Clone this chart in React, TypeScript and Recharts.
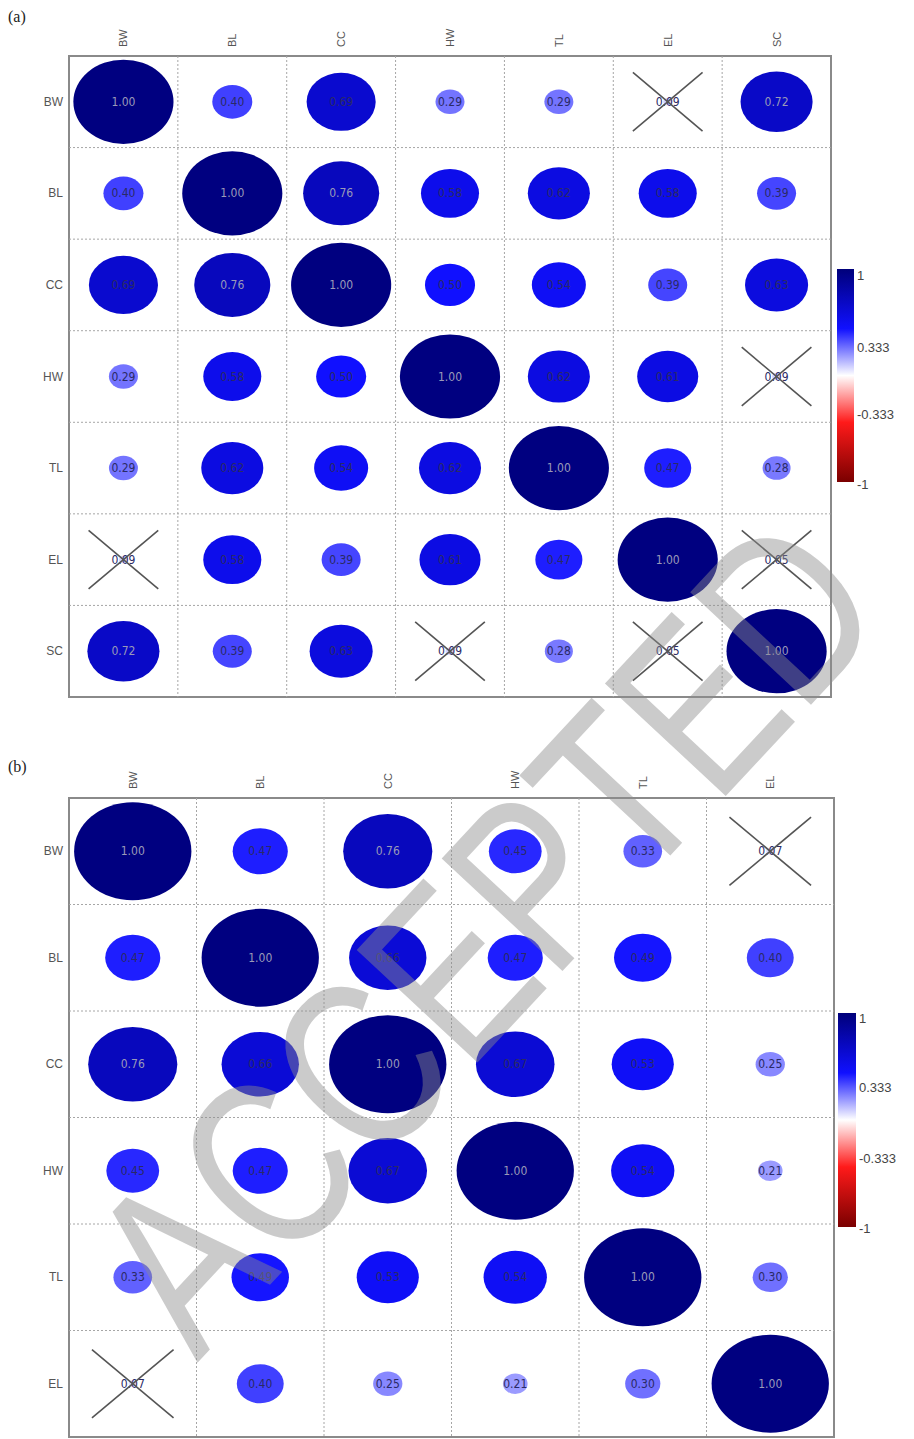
import React from "react";
import {
  ReferenceArea,
  ReferenceLine,
  Scatter,
  ScatterChart,
  XAxis,
  YAxis,
} from "recharts";

// panel (a)
const traitsA = ["BW", "BL", "CC", "HW", "TL", "EL", "SC"];
const corrA = [
  [1.0, 0.4, 0.69, 0.29, 0.29, 0.09, 0.72],
  [0.4, 1.0, 0.76, 0.58, 0.62, 0.58, 0.39],
  [0.69, 0.76, 1.0, 0.5, 0.54, 0.39, 0.63],
  [0.29, 0.58, 0.5, 1.0, 0.62, 0.61, 0.09],
  [0.29, 0.62, 0.54, 0.62, 1.0, 0.47, 0.28],
  [0.09, 0.58, 0.39, 0.61, 0.47, 1.0, 0.05],
  [0.72, 0.39, 0.63, 0.09, 0.28, 0.05, 1.0],
];

// panel (b)
const traitsB = ["BW", "BL", "CC", "HW", "TL", "EL"];
const corrB = [
  [1.0, 0.47, 0.76, 0.45, 0.33, 0.07],
  [0.47, 1.0, 0.66, 0.47, 0.49, 0.4],
  [0.76, 0.66, 1.0, 0.67, 0.53, 0.25],
  [0.45, 0.47, 0.67, 1.0, 0.54, 0.21],
  [0.33, 0.49, 0.53, 0.54, 1.0, 0.3],
  [0.07, 0.4, 0.25, 0.21, 0.3, 1.0],
];

const colorbarLabels = ["1", "0.333", "-0.333", "-1"];
const nonSigCutoff = 0.2; // cells below this get crossed out

const labelFont = "'Liberation Sans', Arial, sans-serif";
const valueFont = "'DejaVu Sans Condensed', 'Liberation Sans Narrow', sans-serif";

function mix(a: number[], b: number[], t: number) {
  const c = a.map((v, i) => Math.round(v + (b[i] - v) * t));
  return `rgb(${c[0]},${c[1]},${c[2]})`;
}

// white -> blue -> navy for positive r
function corrColor(r: number) {
  const v = Math.min(1, Math.abs(r));
  if (r >= 0) {
    if (v < 0.5) return mix([255, 255, 255], [16, 16, 255], v / 0.5);
    return mix([16, 16, 255], [0, 0, 128], (v - 0.5) / 0.5);
  }
  if (v < 0.5) return mix([255, 255, 255], [255, 26, 26], v / 0.5);
  return mix([255, 26, 26], [128, 0, 0], (v - 0.5) / 0.5);
}

function CorrPanel({
  names,
  matrix,
  width,
  height,
  plotLeft,
  plotTop,
  plotW,
  plotH,
}: {
  names: string[];
  matrix: number[][];
  width: number;
  height: number;
  plotLeft: number;
  plotTop: number;
  plotW: number;
  plotH: number;
}) {
  const n = names.length;
  const cw = plotW / n;
  const ch = plotH / n;
  const axisH = 40;
  const axisW = 50;
  const centers = names.map((_, i) => i + 0.5);
  const bounds = names.slice(1).map((_, i) => i + 1);
  const cells = matrix.flatMap((row, i) =>
    row.map((r, j) => ({ x: j + 0.5, y: i + 0.5, r }))
  );

  const ColTick = (p: any) => (
    <text
      x={0}
      y={0}
      transform={`translate(${p.x},${plotTop - 9}) rotate(-90)`}
      textAnchor="start"
      dominantBaseline="central"
      fontSize={11}
      fontFamily={labelFont}
      fill="#555"
    >
      {names[Math.floor(p.payload.value)]}
    </text>
  );

  const RowTick = (p: any) => (
    <text
      x={plotLeft - 6}
      y={p.y}
      textAnchor="end"
      dominantBaseline="central"
      fontSize={12}
      fontFamily={labelFont}
      fill="#555"
    >
      {names[Math.floor(p.payload.value)]}
    </text>
  );

  const Cell = (p: any) => {
    const { cx, cy, payload } = p;
    if (cx == null || cy == null) return <g />;
    const a = Math.abs(payload.r);
    const crossed = a < nonSigCutoff;
    const dx = cw * 0.32;
    const dy = ch * 0.32;
    return (
      <g>
        <ellipse
          cx={cx}
          cy={cy}
          rx={0.46 * cw * a}
          ry={0.46 * ch * a}
          fill={corrColor(payload.r)}
        />
        <text
          x={cx}
          y={cy}
          textAnchor="middle"
          dominantBaseline="central"
          fontSize={12}
          fontFamily={valueFont}
          fill={a >= 0.7 ? "#9a9ab8" : "#2a2a66"}
        >
          {payload.r.toFixed(2)}
        </text>
        {crossed && (
          <g stroke="#555" strokeWidth={1.6}>
            <line x1={cx - dx} y1={cy - dy} x2={cx + dx} y2={cy + dy} />
            <line x1={cx - dx} y1={cy + dy} x2={cx + dx} y2={cy - dy} />
          </g>
        )}
      </g>
    );
  };

  return (
    <ScatterChart
      width={width}
      height={height}
      margin={{
        top: plotTop - axisH,
        left: plotLeft - axisW,
        right: width - plotLeft - plotW,
        bottom: height - plotTop - plotH,
      }}
    >
      <XAxis
        type="number"
        dataKey="x"
        domain={[0, n]}
        ticks={centers}
        interval={0}
        orientation="top"
        height={axisH}
        axisLine={false}
        tickLine={false}
        tick={<ColTick />}
      />
      <YAxis
        type="number"
        dataKey="y"
        domain={[0, n]}
        ticks={centers}
        interval={0}
        reversed
        width={axisW}
        axisLine={false}
        tickLine={false}
        tick={<RowTick />}
      />
      {bounds.map((b) => (
        <ReferenceLine
          key={`vx${b}`}
          x={b}
          stroke="#a6a6a6"
          strokeDasharray="2 2"
        />
      ))}
      {bounds.map((b) => (
        <ReferenceLine
          key={`hy${b}`}
          y={b}
          stroke="#a6a6a6"
          strokeDasharray="2 2"
        />
      ))}
      <Scatter data={cells} shape={Cell} isAnimationActive={false} />
      <ReferenceArea
        x1={0}
        x2={n}
        y1={0}
        y2={n}
        fill="none"
        fillOpacity={0}
        stroke="#8a8a8a"
        strokeWidth={2}
      />
    </ScatterChart>
  );
}

function ColorBar({
  id,
  x,
  y,
  w,
  h,
  labelYs,
}: {
  id: string;
  x: number;
  y: number;
  w: number;
  h: number;
  labelYs: number[];
}) {
  return (
    <g>
      <defs>
        <linearGradient id={id} x1="0" y1="0" x2="0" y2="1">
          <stop offset="0%" stopColor="#00007a" />
          <stop offset="28%" stopColor="#1010ff" />
          <stop offset="50%" stopColor="#ffffff" />
          <stop offset="72%" stopColor="#ff1a1a" />
          <stop offset="100%" stopColor="#7a0000" />
        </linearGradient>
      </defs>
      <rect x={x} y={y} width={w} height={h} fill={`url(#${id})`} />
      {colorbarLabels.map((t, i) => (
        <text
          key={t}
          x={x + w + 3}
          y={labelYs[i]}
          dominantBaseline="central"
          fontSize={13}
          fontFamily={labelFont}
          fill="#444"
        >
          {t}
        </text>
      ))}
    </g>
  );
}

export default function App() {
  return (
    <div
      style={{
        position: "absolute",
        left: 0,
        top: 0,
        width: 914,
        height: 1439,
        background: "#fff",
        overflow: "hidden",
      }}
    >
      <div style={{ position: "absolute", left: 0, top: 0 }}>
        <CorrPanel
          names={traitsA}
          matrix={corrA}
          width={914}
          height={705}
          plotLeft={69}
          plotTop={56}
          plotW={762}
          plotH={641}
        />
      </div>
      <div style={{ position: "absolute", left: 0, top: 750 }}>
        <CorrPanel
          names={traitsB}
          matrix={corrB}
          width={914}
          height={689}
          plotLeft={69}
          plotTop={48}
          plotW={765}
          plotH={639}
        />
      </div>
      <svg
        width={914}
        height={1439}
        style={{ position: "absolute", left: 0, top: 0, pointerEvents: "none" }}
      >
        <text x={8} y={22} fontSize={16} fontFamily="'Liberation Serif', serif" fill="#222">
          (a)
        </text>
        <text x={8} y={772} fontSize={16} fontFamily="'Liberation Serif', serif" fill="#222">
          (b)
        </text>
        <ColorBar id="cbA" x={837} y={269} w={17} h={213} labelYs={[275, 347, 414, 484]} />
        <ColorBar id="cbB" x={838} y={1013} w={18} h={214} labelYs={[1018, 1087, 1158, 1228]} />
        <text
          x={0}
          y={0}
          transform="translate(545,990) rotate(-47)"
          textAnchor="middle"
          fontSize={240}
          textLength={1020}
          lengthAdjust="spacingAndGlyphs"
          fontFamily={labelFont}
          fill="#8c8c8c"
          fillOpacity={0.45}
        >
          ACCEPTED
        </text>
      </svg>
    </div>
  );
}
